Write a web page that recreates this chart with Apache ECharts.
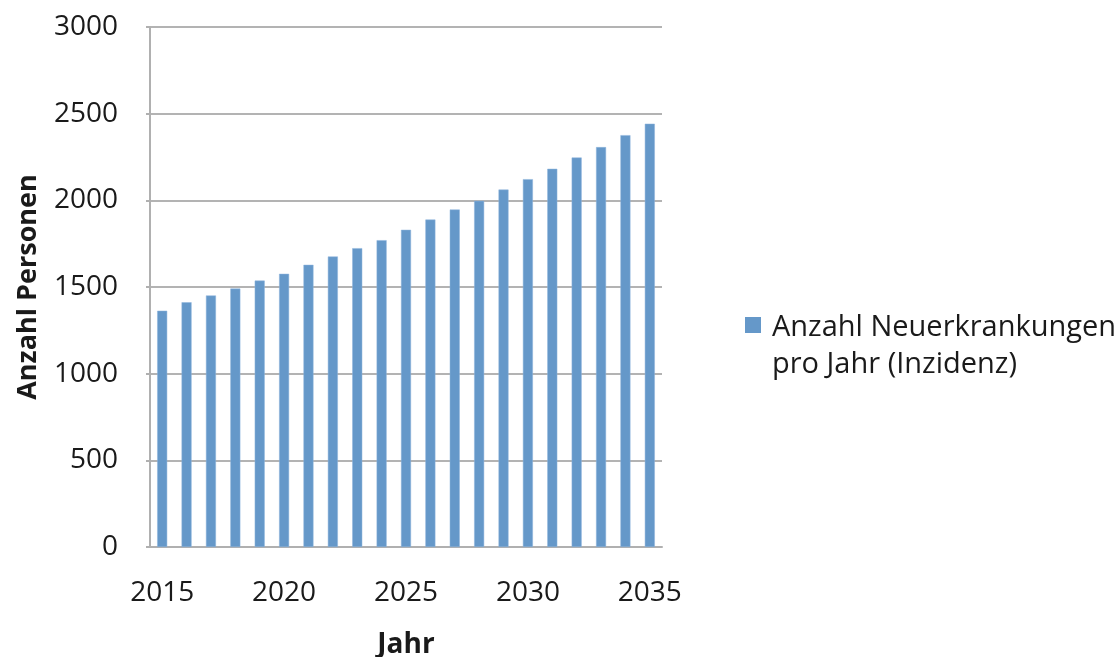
<!DOCTYPE html>
<html>
<head>
<meta charset="utf-8">
<script src="https://cdn.jsdelivr.net/npm/echarts@6/dist/echarts.min.js"></script>
<style>html,body{margin:0;padding:0;background:#fff}#c{width:1120px;height:657px}</style>
</head>
<body>
<div id="c"></div>
<script>
const years = ['2015','2016','2017','2018','2019','2020','2021','2022','2023','2024','2025','2026','2027','2028','2029','2030','2031','2032','2033','2034','2035'];
const incidence = [1363,1412,1451,1491,1537,1576,1628,1676,1724,1770,1830,1889,1947,1997,2062,2122,2182,2247,2307,2376,2442];
const seriesName = 'Anzahl Neuerkrankungen\npro Jahr (Inzidenz)';
const xTitle = 'Jahr';
const yTitle = 'Anzahl Personen';

const font = '"Open Sans", "Noto Sans", sans-serif';
const LH = 37;
const SQ = 16;
const iconH = SQ + LH + 6;
const chart = echarts.init(document.getElementById('c'), null, {renderer: 'canvas'});
chart.setOption({
  animation: false,
  backgroundColor: '#ffffff',
  textStyle: {fontFamily: font},
  grid: {left: 150, right: 458, top: 27, bottom: 110, containLabel: false, outerBoundsMode: 'none'},
  legend: {
    show: true,
    left: 745,
    top: 317 - Math.max(0, LH - iconH / 2),
    padding: 0,
    itemWidth: SQ,
    itemHeight: iconH,
    icon: 'path://M0,0L' + SQ + ',0L' + SQ + ',' + SQ + 'L0,' + SQ + 'Z M0,' + iconH + 'L0.001,' + iconH + 'Z',
    itemStyle: {borderWidth: 0},
    data: [seriesName],
    textStyle: {fontFamily: font, fontSize: 29, color: '#1a1a1a', lineHeight: LH, padding: [0, 0, 0, 6]}
  },
  xAxis: {
    type: 'category',
    data: years,
    boundaryGap: true,
    name: xTitle,
    nameLocation: 'middle',
    nameGap: 84,
    nameTextStyle: {fontFamily: font, fontSize: 28, fontWeight: 'bold', color: '#1a1a1a'},
    axisLine: {show: true, lineStyle: {color: '#b0b0b0', width: 2}},
    axisTick: {show: false},
    axisLabel: {interval: 4, fontFamily: font, fontSize: 28, color: '#1a1a1a', margin: 32}
  },
  yAxis: {
    type: 'value',
    min: 0,
    max: 3000,
    interval: 500,
    name: yTitle,
    nameLocation: 'middle',
    nameGap: 108,
    nameTextStyle: {fontFamily: font, fontSize: 27, fontWeight: 'bold', color: '#1a1a1a'},
    axisLine: {show: true, lineStyle: {color: '#b0b0b0', width: 2}},
    axisTick: {show: true, length: 4, lineStyle: {color: '#b0b0b0', width: 2}},
    axisLabel: {fontFamily: font, fontSize: 28, color: '#1a1a1a', margin: 32, formatter: function (v) { return String(v); }},
    splitLine: {show: true, lineStyle: {color: '#b3b3b3', width: 2}}
  },
  series: [{
    name: seriesName,
    type: 'bar',
    data: incidence,
    barWidth: 10,
    itemStyle: {color: '#6598c9', borderColor: '#8fb4dc', borderWidth: 0.5}
  }]
});
</script>
</body>
</html>
